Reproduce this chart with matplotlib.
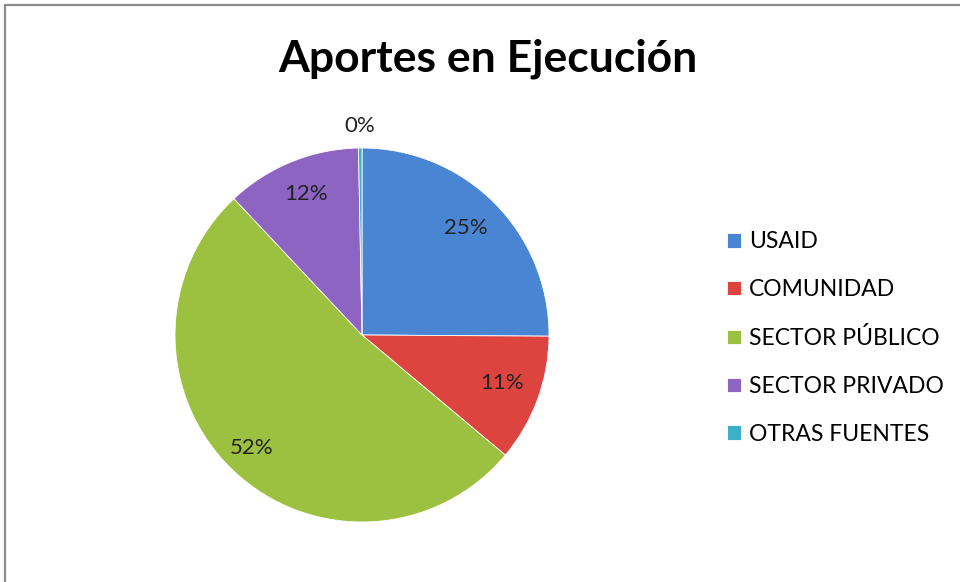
import numpy as np
import matplotlib
matplotlib.use("Agg")
import matplotlib.pyplot as plt
from matplotlib.patches import Rectangle

# Data
categories = ["USAID", "COMUNIDAD", "SECTOR PÚBLICO", "SECTOR PRIVADO", "OTRAS FUENTES"]
values = [25.1, 11.0, 51.9, 11.7, 0.3]
label_texts = ["25%", "11%", "52%", "12%", "0%"]
colors = ["#4a85d3", "#dd4440", "#9cc140", "#8e64c2", "#3cb0c8"]
label_radius = [0.78, 0.80, 0.86, 0.79, 1.10]

plt.rcParams['font.family'] = ['Lato', 'DejaVu Sans']

fig = plt.figure(figsize=(9.6, 5.82), dpi=100)
W, H = 960, 582

# outer chart frame (right/bottom edges fall outside the picture)
fig.patches.append(Rectangle((5 / W, -0.1), 1.2, 1 - 5 / H + 0.1, transform=fig.transFigure,
                             fill=False, edgecolor="#8c8c8c", linewidth=1.6))

fig.text(488 / W, 1 - 59 / H, "Aportes en Ejecución", ha="center", va="center",
         fontsize=32, fontweight="bold", color="black")

# pie axes placed by pixel: centre (362, 335), radius 187
cx, cy, r = 362, 335, 187
ax = fig.add_axes([(cx - r) / W, 1 - (cy + r) / H, 2 * r / W, 2 * r / H])
wedges, _ = ax.pie(values, colors=colors, startangle=90, counterclock=False,
                   radius=1.0, wedgeprops=dict(edgecolor="#ffffff", linewidth=0.6))
ax.set_xlim(-1, 1)
ax.set_ylim(-1, 1)
ax.set_aspect("equal")
ax.axis("off")

for w, txt, rr in zip(wedges, label_texts, label_radius):
    ang = np.deg2rad((w.theta1 + w.theta2) / 2)
    ax.text(rr * np.cos(ang), rr * np.sin(ang) + 0.02, txt, ha="center", va="center",
            fontsize=16, color="#222222")

# legend
leg = fig.legend(wedges, categories, loc="upper left", bbox_to_anchor=(716 / W, 1 - 220 / H),
                 frameon=False, fontsize=16.5, handlelength=0.6, handleheight=0.6,
                 handletextpad=0.35, labelspacing=1.17, borderpad=0)

fig.savefig("out.png", dpi=100, facecolor="white")
